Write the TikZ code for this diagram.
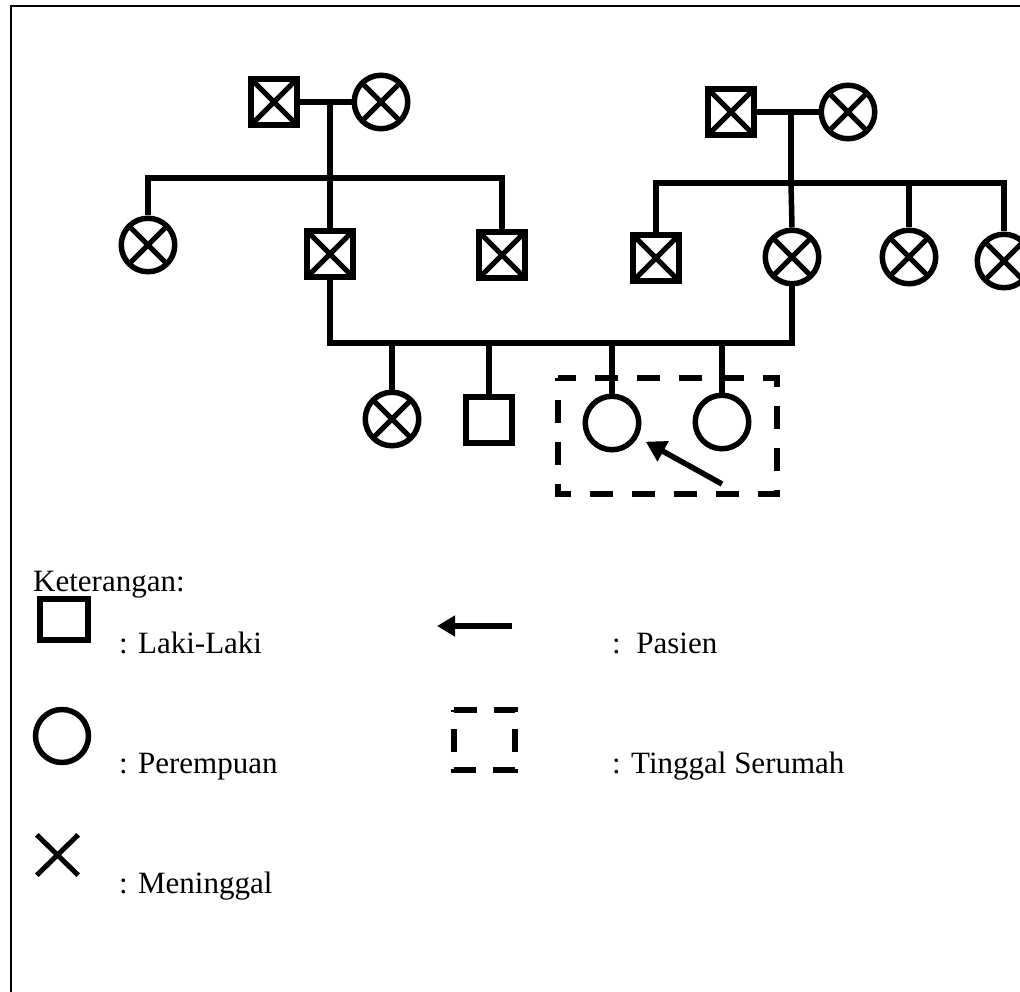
\documentclass[tikz,border=0pt]{standalone}
\usepackage{fontspec}
\setmainfont{Liberation Serif}
\usetikzlibrary{arrows.meta}
\tikzset{
  ln/.style={line width=5.5pt},
  male/.style={draw, rectangle, minimum size=46pt, inner sep=0pt, line width=5.5pt},
  female/.style={draw, circle, minimum size=53.5pt, inner sep=0pt, line width=5.5pt},
  dead/.style={path picture={\draw[line width=5pt]
      (path picture bounding box.north west) -- (path picture bounding box.south east)
      (path picture bounding box.north east) -- (path picture bounding box.south west);}},
  lbl/.style={anchor=base west, inner sep=0pt, font=\fontsize{31}{37}\selectfont},
  house/.style={line width=5.5pt, dash pattern=on 23pt off 19pt, dash phase=5pt},
}
\begin{document}
\begin{tikzpicture}[x=1pt, y=-1pt]
\useasboundingbox (0,0) rectangle (1020,992);
% frame
\draw[line width=2pt] (11,992) -- (11,6) -- (1020,6);

% ---- left grandparents
\node[male,dead] (gf1) at (274,102) {};
\node[female,dead] (gm1) at (381,102) {};
\draw[ln] (gf1) -- (gm1);
\coordinate (m1) at (330,102);
\coordinate (s1) at (330,178);
\draw[ln] (m1) -- (s1);
\node[female,dead] (a1) at (148,245) {};
\node[male,dead] (a2) at (330,254) {};
\node[male,dead] (a3) at (502,255) {};
\draw[ln] (a1.north) |- (s1) -| (a3.north);
\draw[ln] (s1) -- (a2.north);

% ---- right grandparents
\node[male,dead] (gf2) at (731,112) {};
\node[female,dead] (gm2) at (848,112) {};
\draw[ln] (gf2) -- (gm2);
\coordinate (m2) at (791,112);
\coordinate (s2) at (791,183);
\draw[ln] (m2) -- (s2);
\node[male,dead] (b1) at (656,258) {};
\node[female,dead] (b2) at (792,257) {};
\node[female,dead] (b3) at (909,257) {};
\node[female,dead] (b4) at (1004,261) {};
\draw[ln] (b1.north) |- (s2) -| (b4.north);
\draw[ln] (s2) -- (b2.north);
\draw[ln] (b3.north) -- (b3.north |- s2);

% ---- parents' line and children
\coordinate (h) at (0,343);
\draw[ln] (a2.south) |- (b2.south |- h) -- (b2.south);
\node[female,dead] (c1) at (392,419) {};
\node[male] (c2) at (489,420) {};
\node[female] (c3) at (612,423) {};
\node[female] (c4) at (722,422) {};
\foreach \c in {c1,c2,c3,c4} \draw[ln] (\c.north) -- (\c.north |- h);

% household box and patient arrow
\draw[house] (558,378) -- (777,378) -- (777,494) -- (558,494) -- cycle;
\coordinate (pt) at (722,484);
\draw[ln, -{Triangle[length=20pt,width=22pt]}, shorten >=9pt] (pt) -- (c3);

% ---- legend
\node[lbl] (ket) at (33,591) {Keterangan:};
\node[draw, rectangle, line width=6pt, minimum width=48pt, minimum height=41pt, inner sep=0pt] (lm) at (64,619) {};
\node[lbl] (tm) at (119,653) {: Laki-Laki};
\node[draw, circle, line width=5.5pt, minimum size=53pt, inner sep=0pt] (lf) at (62,736) {};
\node[lbl] (tf) at (119,773) {: Perempuan};
\node[inner sep=0pt, minimum width=41pt, minimum height=40pt] (lx) at (57.5,855) {};
\draw[line width=5pt] (lx.north west) -- (lx.south east) (lx.north east) -- (lx.south west);
\node[lbl] (td) at (119,893) {: Meninggal};

\coordinate (la1) at (512,626);
\coordinate (la2) at (437,626);
\draw[line width=6pt, -{Triangle[length=18pt,width=20pt]}] (la1) -- (la2);
\node[lbl] (tp) at (612,653) {:\ \ Pasien};
\draw[line width=6pt, dash pattern=on 23pt off 17pt] (454,710) -- (515,710) -- (515,770) -- (454,770) -- cycle;
\node[lbl] (tt) at (612,773) {: Tinggal Serumah};
\end{tikzpicture}
\end{document}
